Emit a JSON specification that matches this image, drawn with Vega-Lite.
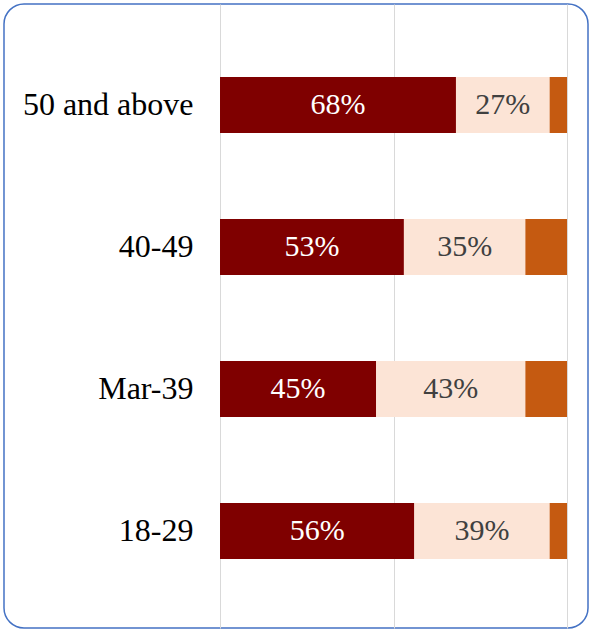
{
  "$schema": "https://vega.github.io/schema/vega-lite/v6.json",
  "width": 584,
  "height": 624,
  "padding": 4,
  "autosize": "none",
  "background": "white",
  "config": {
    "view": {"stroke": "#4472C4", "strokeWidth": 1.5, "cornerRadius": 20, "fill": "white"},
    "font": "Liberation Serif"
  },
  "data": {
    "values": [
      {"cat": "50 and above", "seg": "A", "order": 1, "value": 68, "label": "68%"},
      {"cat": "50 and above", "seg": "B", "order": 2, "value": 27, "label": "27%"},
      {"cat": "50 and above", "seg": "C", "order": 3, "value": 5, "label": ""},
      {"cat": "40-49", "seg": "A", "order": 1, "value": 53, "label": "53%"},
      {"cat": "40-49", "seg": "B", "order": 2, "value": 35, "label": "35%"},
      {"cat": "40-49", "seg": "C", "order": 3, "value": 12, "label": ""},
      {"cat": "Mar-39", "seg": "A", "order": 1, "value": 45, "label": "45%"},
      {"cat": "Mar-39", "seg": "B", "order": 2, "value": 43, "label": "43%"},
      {"cat": "Mar-39", "seg": "C", "order": 3, "value": 12, "label": ""},
      {"cat": "18-29", "seg": "A", "order": 1, "value": 56, "label": "56%"},
      {"cat": "18-29", "seg": "B", "order": 2, "value": 39, "label": "39%"},
      {"cat": "18-29", "seg": "C", "order": 3, "value": 5, "label": ""}
    ]
  },
  "transform": [
    {"stack": "value", "groupby": ["cat"], "sort": [{"field": "order", "order": "ascending"}], "as": ["x0", "x1"]},
    {"calculate": "(datum.x0 + datum.x1) / 2", "as": "mid"}
  ],
  "layer": [
    {
      "mark": {"type": "bar"},
      "encoding": {
        "y": {
          "field": "cat",
          "type": "nominal",
          "sort": ["50 and above", "40-49", "Mar-39", "18-29"],
          "scale": {"paddingInner": 0.6056, "paddingOuter": 0.5, "align": 0.514},
          "axis": {
            "orient": "left",
            "offset": -216,
            "domain": false,
            "ticks": false,
            "grid": false,
            "title": null,
            "labelPadding": 27,
            "labelFontSize": 32,
            "labelColor": "#000000",
            "labelFont": "Liberation Serif"
          }
        },
        "x": {
          "field": "x0",
          "type": "quantitative",
          "scale": {"domain": [-62.25, 106.05], "nice": false, "zero": false},
          "axis": {
            "values": [0, 50, 100],
            "grid": true,
            "gridColor": "#D9D9D9",
            "gridWidth": 1,
            "labels": false,
            "ticks": false,
            "domain": false,
            "title": null,
            "zindex": 0
          }
        },
        "x2": {"field": "x1"},
        "color": {
          "field": "seg",
          "type": "nominal",
          "scale": {"domain": ["A", "B", "C"], "range": ["#7F0000", "#FCE4D6", "#C55A11"]},
          "legend": null
        }
      }
    },
    {
      "transform": [{"filter": "datum.label != ''"}],
      "mark": {"type": "text", "fontSize": 30, "font": "Times New Roman", "baseline": "middle", "align": "center"},
      "encoding": {
        "y": {"field": "cat", "type": "nominal", "sort": ["50 and above", "40-49", "Mar-39", "18-29"]},
        "x": {"field": "mid", "type": "quantitative"},
        "text": {"field": "label"},
        "color": {"condition": {"test": "datum.seg === 'A'", "value": "#FFFFFF"}, "value": "#404040"}
      }
    }
  ]
}
